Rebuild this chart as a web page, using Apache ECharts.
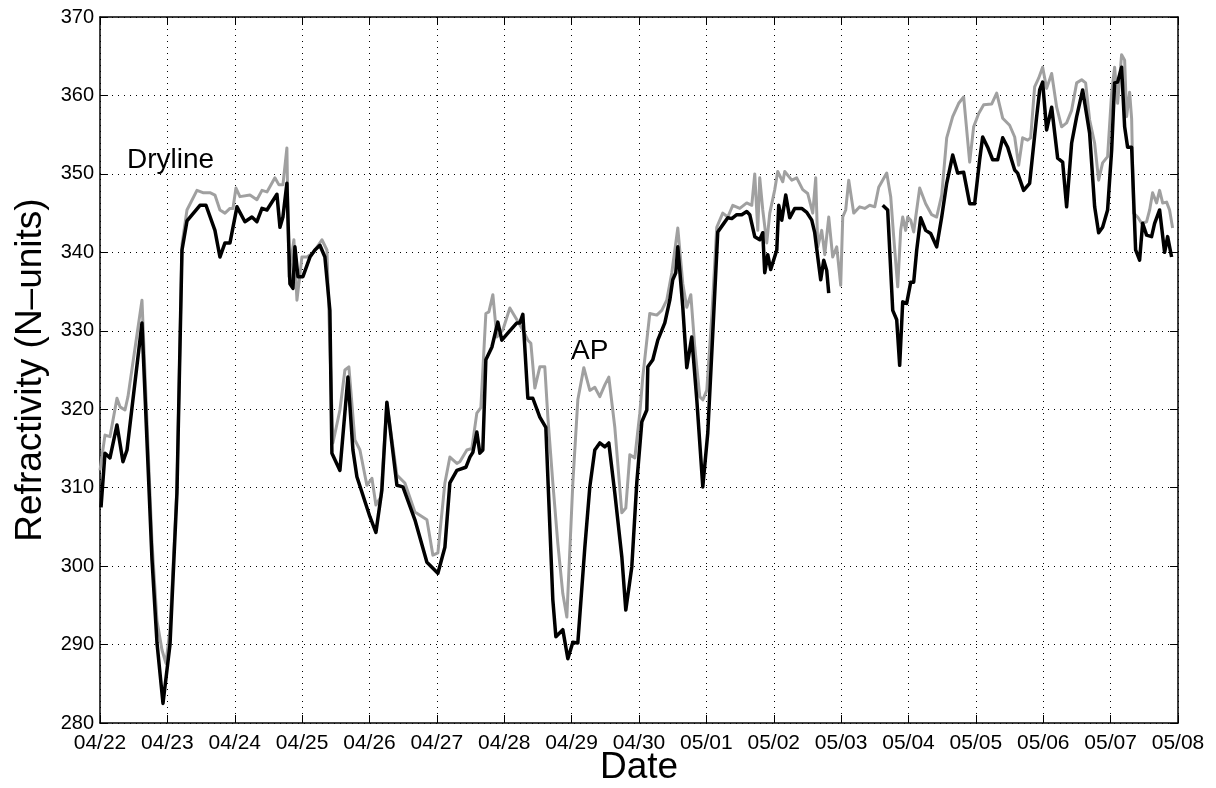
<!DOCTYPE html>
<html>
<head>
<meta charset="utf-8">
<script src="https://cdn.jsdelivr.net/npm/echarts@6/dist/echarts.min.js"></script>
<style>html,body{margin:0;padding:0;background:#fff;}#c{width:1216px;height:788px;}</style>
</head>
<body>
<div id="c"></div>
<script>
// Tick labels (x axis: days since 04/22 00:00)
const dateLabels = ['04/22','04/23','04/24','04/25','04/26','04/27','04/28','04/29','04/30','05/01','05/02','05/03','05/04','05/05','05/06','05/07','05/08'];
const yTicks = [280,290,300,310,320,330,340,350,360,370];

// Black series: time (days since 04/22) and refractivity
const blackT = [0.015,0.074,0.148,0.252,0.341,0.401,0.623,0.772,0.846,0.935,1.039,1.142,1.217,1.291,1.484,1.573,1.706,1.780,1.855,1.929,2.033,2.151,2.255,2.329,2.404,2.478,2.626,2.671,2.715,2.774,2.819,2.864,2.893,2.938,3.012,3.116,3.190,3.264,3.338,3.412,3.442,3.561,3.680,3.754,3.813,4.006,4.095,4.184,4.258,4.407,4.496,4.674,4.852,5.015,5.119,5.193,5.297,5.430,5.490,5.534,5.593,5.638,5.682,5.727,5.816,5.905,5.964,6.053,6.187,6.231,6.276,6.350,6.424,6.528,6.617,6.721,6.766,6.869,6.944,7.018,7.092,7.196,7.270,7.344,7.418,7.493,7.552,7.641,7.745,7.804,7.893,7.967,8.042,8.116,8.131,8.205,8.279,8.383,8.457,8.501,8.546,8.576,8.650,8.709,8.783,8.858,8.947,9.021,9.095,9.169,9.243,9.318,9.377,9.451,9.525,9.599,9.644,9.718,9.792,9.837,9.866,9.911,9.955,10.045,10.074,10.119,10.178,10.237,10.312,10.415,10.490,10.564,10.608,10.653,10.697,10.742,10.786,10.816,11.2,11.617,11.691,11.766,11.825,11.869,11.914,11.973,12.033,12.077,12.122,12.181,12.255,12.329,12.418,12.493,12.567,12.656,12.730,12.819,12.908,12.982,13.056,13.101,13.175,13.249,13.323,13.398,13.472,13.576,13.620,13.709,13.798,13.902,13.947,13.991,14.050,14.125,14.214,14.288,14.347,14.421,14.496,14.585,14.688,14.763,14.822,14.881,14.955,15.015,15.059,15.104,15.163,15.208,15.252,15.312,15.371,15.430,15.475,15.534,15.608,15.653,15.727,15.801,15.846,15.905];
const blackN = [307.5,314.4,313.8,318.0,313.3,314.8,331.0,300.8,290.2,282.5,290.0,309.3,340.3,344.0,346.0,346.0,342.8,339.4,341.2,341.2,345.8,343.9,344.5,343.9,345.6,345.4,347.4,343.2,344.5,348.8,336.0,335.4,340.7,336.9,336.9,339.4,340.3,340.9,339.4,332.6,314.4,312.2,324.1,314.8,311.4,306.3,304.3,309.7,320.9,310.3,310.1,305.9,300.5,299.1,302.4,310.6,312.2,312.6,313.9,314.5,317.1,314.4,314.8,326.3,327.9,331.1,328.8,329.7,331.0,331.0,332.1,321.4,321.4,319.0,317.7,295.7,291.0,291.9,288.2,290.3,290.2,302.4,310.1,314.8,315.7,315.2,315.7,309.3,301.2,294.4,299.9,310.6,318.4,319.9,325.4,326.3,328.8,331.0,333.9,336.5,337.4,340.7,333.0,325.3,329.2,321.2,310.1,317.0,329.7,342.6,343.5,344.4,344.3,344.8,344.8,345.2,344.8,342.0,341.6,342.5,337.4,339.7,337.8,340.3,346.0,344.1,347.3,344.4,345.6,345.6,345.1,344.1,342.5,339.4,336.5,339.0,337.7,334.8,null,346.0,345.4,332.6,331.4,325.6,333.7,333.5,336.2,336.2,340.3,344.4,342.8,342.4,340.7,344.5,348.8,352.4,350.1,350.2,346.2,346.2,351.8,354.7,353.4,351.8,351.8,354.6,353.4,350.5,350.1,347.9,348.8,357.3,360.7,361.7,355.6,358.5,352.0,351.5,345.8,353.9,357.3,360.7,355.2,345.8,342.5,343.2,345.4,353.0,361.6,361.7,363.6,356.0,353.4,353.4,340.3,339.0,343.7,342.2,342.0,343.7,345.4,340.0,342.0,339.4];

// Grey series: time (days since 04/22) and refractivity
const greyT = [0.000,0.074,0.148,0.252,0.297,0.371,0.415,0.623,0.772,0.846,0.920,0.979,1.039,1.142,1.217,1.291,1.439,1.528,1.632,1.706,1.780,1.855,1.929,1.973,2.018,2.077,2.226,2.329,2.404,2.478,2.596,2.656,2.715,2.774,2.804,2.878,2.923,2.997,3.071,3.160,3.294,3.368,3.457,3.561,3.635,3.694,3.783,3.858,3.961,4.036,4.095,4.169,4.258,4.407,4.525,4.674,4.852,4.941,5.015,5.119,5.193,5.297,5.341,5.445,5.519,5.593,5.653,5.727,5.772,5.831,5.890,5.979,6.083,6.187,6.276,6.350,6.395,6.454,6.528,6.602,6.647,6.721,6.795,6.869,6.929,7.018,7.092,7.181,7.270,7.344,7.418,7.493,7.552,7.641,7.745,7.804,7.864,7.938,8.012,8.056,8.160,8.264,8.338,8.412,8.487,8.576,8.650,8.709,8.769,8.828,8.902,8.947,9.006,9.080,9.154,9.243,9.318,9.392,9.496,9.599,9.674,9.718,9.763,9.792,9.837,9.896,9.941,10.015,10.059,10.134,10.163,10.267,10.341,10.430,10.504,10.579,10.623,10.653,10.712,10.757,10.816,10.875,10.935,10.994,11.024,11.068,11.113,11.187,11.276,11.350,11.424,11.499,11.558,11.677,11.736,11.780,11.840,11.884,11.914,11.958,11.988,12.033,12.077,12.166,12.255,12.344,12.418,12.493,12.567,12.656,12.745,12.819,12.908,12.967,13.042,13.116,13.234,13.309,13.398,13.501,13.576,13.635,13.694,13.769,13.813,13.872,13.932,13.991,14.050,14.125,14.199,14.273,14.347,14.421,14.496,14.570,14.629,14.688,14.763,14.822,14.881,14.955,15.015,15.059,15.104,15.163,15.208,15.237,15.282,15.312,15.341,15.401,15.460,15.534,15.579,15.623,15.682,15.727,15.772,15.831,15.875,15.920];
const greyN = [312.2,316.7,316.5,321.4,320.3,319.9,321.6,333.9,303.0,293.0,289.3,287.6,292.0,310.0,341.0,345.4,347.9,347.6,347.6,347.3,345.4,345.0,345.6,345.6,348.2,347.1,347.3,346.7,347.9,347.7,349.5,348.6,348.6,353.3,336.9,341.6,333.9,339.4,339.4,339.9,341.6,340.3,315.7,319.9,325.0,325.4,316.1,314.8,310.3,311.2,307.8,308.8,320.8,311.6,310.6,306.9,305.9,301.4,301.7,310.6,313.9,313.1,313.3,314.8,315.0,319.5,320.2,332.2,332.4,334.6,329.2,330.1,332.9,331.4,330.1,328.8,328.4,322.7,325.4,325.4,319.0,310.6,302.9,296.5,293.5,310.6,321.2,325.3,322.4,322.8,321.6,323.1,324.1,317.7,306.8,307.4,314.2,313.8,319.5,324.1,332.2,332.0,332.6,333.9,337.4,343.1,336.0,333.0,334.6,327.9,321.6,321.2,322.4,331.8,343.2,345.0,344.5,346.0,345.6,346.3,346.0,350.0,342.8,349.5,345.4,341.2,345.0,348.0,350.3,349.0,350.3,349.2,349.5,348.0,347.5,345.0,349.5,340.7,342.8,339.7,344.5,339.4,340.7,335.8,344.5,345.4,349.2,345.0,345.8,345.6,346.0,345.8,348.3,350.1,347.1,342.0,335.6,342.8,344.5,342.8,344.5,344.1,342.6,348.2,346.2,344.8,344.5,347.3,354.6,357.3,359.0,359.8,351.5,356.0,357.7,358.8,358.9,360.3,357.1,356.2,354.7,351.1,354.6,354.3,354.6,361.1,362.2,363.6,360.9,362.8,358.5,356.0,356.5,358.1,361.6,362.0,361.6,356.9,353.9,349.2,351.4,352.2,360.3,363.6,359.0,365.2,364.5,357.3,360.4,357.0,345.0,344.5,343.7,343.9,345.4,347.6,346.3,347.9,346.3,346.4,345.4,343.1];

const pair = (t, n) => t.map((x, i) => [x, n[i] === null ? '-' : n[i]]);

const chart = echarts.init(document.getElementById('c'), null, {renderer: 'canvas'});
const font = "'Liberation Sans', Arial, Helvetica, sans-serif";
const grid = {left: 100, right: 38, top: 17, bottom: 65, containLabel: false, outerBoundsMode: 'none'};
const gridLine = {show: true, lineStyle: {color: '#000', width: 1, type: [1, 5]}};

chart.setOption({
  animation: false,
  backgroundColor: '#fff',
  grid: grid,
  xAxis: [{
    type: 'value', min: 0, max: dateLabels.length - 1, interval: 1,
    axisLine: {show: true, onZero: false, lineStyle: {color: '#000', width: 1.5}},
    axisTick: {show: true, inside: true, length: 8, lineStyle: {color: '#000', width: 1}},
    axisLabel: {color: '#000', fontFamily: font, fontSize: 21, margin: 10, formatter: v => dateLabels[Math.round(v)] || ''},
    splitLine: gridLine,
    name: 'Date', nameLocation: 'middle', nameGap: 26, nameMoveOverlap: false,
    nameTextStyle: {color: '#000', fontFamily: font, fontSize: 37, verticalAlign: 'top', padding: [0, 0, 0, 0]}
  }, {
    type: 'value', position: 'top', min: 0, max: dateLabels.length - 1, interval: 1,
    axisLine: {show: true, onZero: false, lineStyle: {color: '#000', width: 1.5}},
    axisTick: {show: true, inside: true, length: 8, lineStyle: {color: '#000', width: 1}},
    axisLabel: {show: false}, splitLine: {show: false}
  }],
  yAxis: [{
    type: 'value', min: yTicks[0], max: yTicks[yTicks.length - 1], interval: 10,
    axisLine: {show: true, onZero: false, lineStyle: {color: '#000', width: 1.5}},
    axisTick: {show: true, inside: true, length: 8, lineStyle: {color: '#000', width: 1}},
    axisLabel: {color: '#000', fontFamily: font, fontSize: 20, margin: 6},
    splitLine: gridLine,
    name: 'Refractivity (N\u2013units)', nameLocation: 'middle', nameGap: 51,
    nameTextStyle: {color: '#000', fontFamily: font, fontSize: 37}
  }, {
    type: 'value', position: 'right', min: yTicks[0], max: yTicks[yTicks.length - 1], interval: 10,
    axisLine: {show: true, onZero: false, lineStyle: {color: '#000', width: 1.5}},
    axisTick: {show: true, inside: true, length: 8, lineStyle: {color: '#000', width: 1}},
    axisLabel: {show: false}, splitLine: {show: false}
  }],
  series: [{
    name: 'grey', type: 'line', xAxisIndex: 0, yAxisIndex: 0,
    data: pair(greyT, greyN), showSymbol: false, symbol: 'none',
    lineStyle: {color: '#a0a0a0', width: 3, join: 'round'}, connectNulls: false, z: 2
  }, {
    name: 'black', type: 'line', xAxisIndex: 0, yAxisIndex: 0,
    data: pair(blackT, blackN), showSymbol: false, symbol: 'none',
    lineStyle: {color: '#000', width: 3.5, join: 'round'}, connectNulls: false, z: 3
  }],
  graphic: [
    {type: 'text', left: 127, top: 146, style: {text: 'Dryline', fontFamily: font, fontSize: 28, fill: '#000'}},
    {type: 'text', left: 571, top: 337, style: {text: 'AP', fontFamily: font, fontSize: 28, fill: '#000'}}
  ]
});
</script>
</body>
</html>
